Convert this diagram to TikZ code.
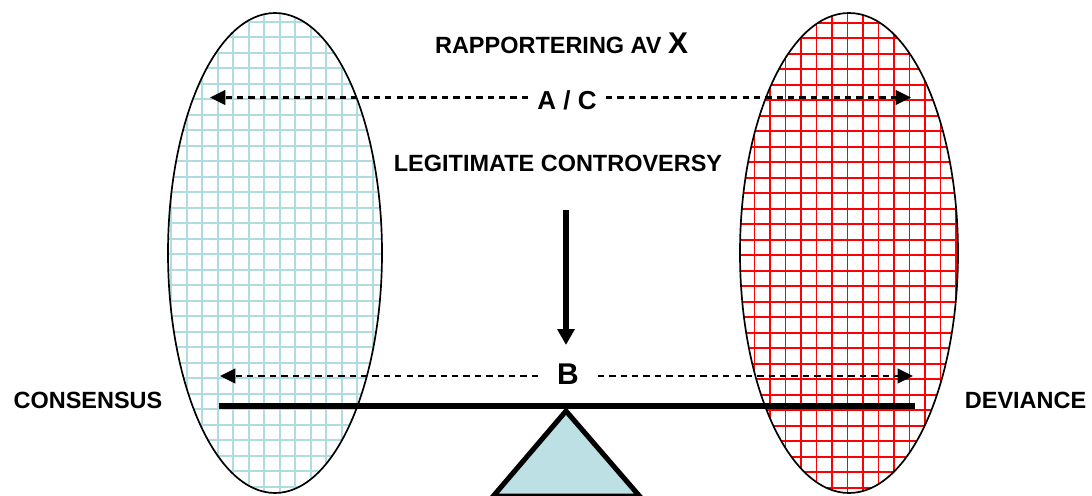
\documentclass[tikz,border=0pt]{standalone}
\usepackage{fontspec}
\setmainfont{Liberation Sans}
\usetikzlibrary{arrows.meta, positioning}
\definecolor{gridcyan}{RGB}{176,220,224}
\definecolor{basecyan}{RGB}{188,224,227}

\begin{document}
\begin{tikzpicture}[>=Triangle,
    lbl/.style={font=\fontsize{16.7}{20}\selectfont\bfseries, inner sep=0pt},
    biglbl/.style={font=\fontsize{21.3}{24}\selectfont\bfseries, inner sep=0pt},
    dasharrow/.style={->, line width=1.5pt, dash pattern=on 4.5pt off 3.6pt,
      >={Triangle[length=11pt,width=10.5pt]}}]
    \clip (0,0) rectangle (27.3,12.375);

    % Consensus ellipse
    \begin{scope}
      \clip (6.875,6.05) ellipse [x radius=2.675, y radius=6];
      \foreach \i in {-2,...,14}
        \draw[gridcyan, line width=1.4pt] ({4.667+0.3875*\i},-0.2) -- ++(0,12.8);
      \foreach \j in {-1,...,31}
        \draw[gridcyan, line width=1.4pt] (4,{11.83-0.3875*\j}) -- ++(6,0);
    \end{scope}
    \draw[line width=1.2pt] (6.875,6.05) ellipse [x radius=2.675, y radius=6];

    % Deviance ellipse
    \begin{scope}
      \clip (21.225,6.05) ellipse [x radius=2.725, y radius=6];
      \foreach \i in {-2,...,14}
        \draw[red, line width=1.4pt] ({19.25+0.3875*\i},-0.2) -- ++(0,12.8);
      \foreach \j in {-1,...,31}
        \draw[red, line width=1.4pt] (18,{11.8075-0.3875*\j}) -- ++(6.5,0);
    \end{scope}
    \draw[line width=1.2pt] (21.225,6.05) ellipse [x radius=2.725, y radius=6];

    % Labels
    \node[lbl, anchor=base] (title) at (14.04,11.04)
      {RAPPORTERING AV {\fontsize{21.3}{24}\selectfont X}};
    \node[lbl, font=\fontsize{18.5}{22}\selectfont\bfseries, inner xsep=0.225cm] (ac) at (14.175,9.855) {A / C};
    \node[lbl, anchor=base] (legit) at (13.95,8.08) {LEGITIMATE CONTROVERSY};
    \node[biglbl, inner xsep=0.47cm] (b) at (14.2,3.028) {B};
    \node[lbl, anchor=base] (consensus) at (2.2,2.1675) {CONSENSUS};
    \node[lbl, anchor=base] (deviance) at (25.64,2.1675) {DEVIANCE};

    % Scale
    \coordinate (pivot) at (14.15,2.1);
    \coordinate (beamL) at (5.475,2.225);
    \coordinate (beamR) at (22.875,2.225);
    \filldraw[fill=basecyan, line width=3.6pt] (pivot) -- (12.33,-0.03) -- (15.99,-0.03) -- cycle;
    \draw[line width=4.6pt] (beamL) -- (beamR);

    % Arrows
    \coordinate (acL) at (5.25,9.9375);
    \coordinate (acR) at (22.775,9.9375);
    \draw[dasharrow] (ac.west |- acL) -- (acL);
    \draw[dasharrow] (ac.east |- acR) -- (acR);
    \coordinate (bL) at (5.5,2.975);
    \coordinate (bR) at (22.825,2.975);
    \draw[dasharrow] (b.west |- bL) -- (bL);
    \draw[dasharrow] (b.east |- bR) -- (bR);
    \coordinate (pushtop) at (14.15,7.125);
    \coordinate (pushtip) at (14.15,3.75);
    \draw[->, line width=4.3pt, >={Triangle[length=0.4cm,width=0.42cm]}] (pushtop) -- (pushtip);
\end{tikzpicture}
\end{document}
